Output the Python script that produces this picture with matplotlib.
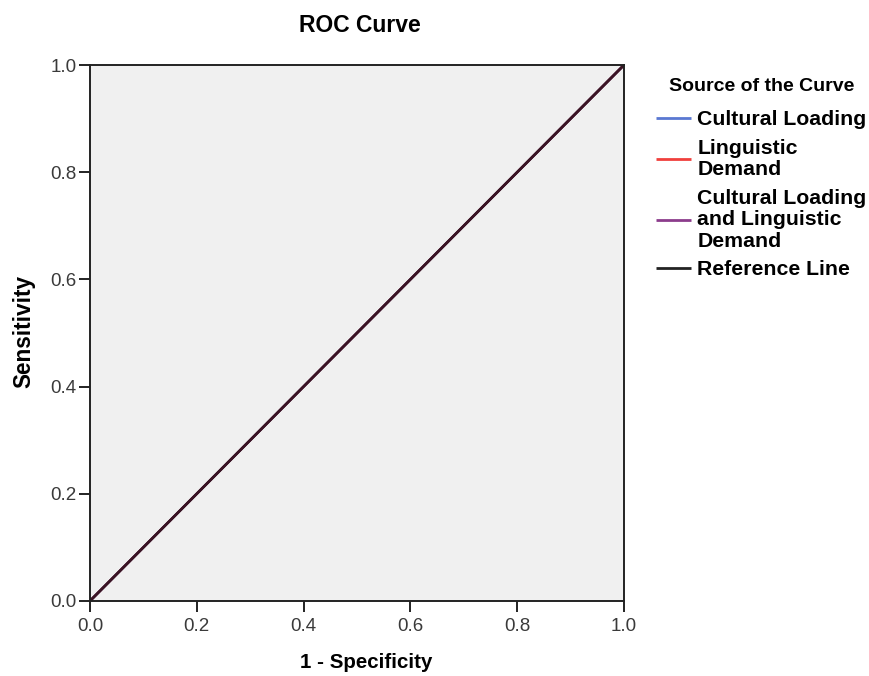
import matplotlib
matplotlib.use('Agg')
import matplotlib.pyplot as plt

plt.rcParams['font.family'] = ['Liberation Sans', 'DejaVu Sans']

# ROC points (1 - specificity, sensitivity) for each source
fpr_cultural = [0.0, 1.0]
tpr_cultural = [0.0, 1.0]
fpr_linguistic = [0.0, 1.0]
tpr_linguistic = [0.0, 1.0]
fpr_both = [0.0, 1.0]
tpr_both = [0.0, 1.0]
ref_x = [0.0, 1.0]
ref_y = [0.0, 1.0]

labels = ['Cultural Loading', 'Linguistic\nDemand',
          'Cultural Loading\nand Linguistic\nDemand', 'Reference Line']
colors = ['#5a78d2', '#f0403c', '#8c3c8c', '#222222']
ticks = [0.0, 0.2, 0.4, 0.6, 0.8, 1.0]

fig = plt.figure(figsize=(8.7, 6.76), dpi=100)
ax = fig.add_axes([0.1034, 0.111, 0.6138, 0.7928])
ax.set_facecolor('#f0f0f0')

series = [(fpr_cultural, tpr_cultural), (fpr_linguistic, tpr_linguistic),
          (fpr_both, tpr_both), (ref_x, ref_y)]
handles = []
for (x, y), c, lab in zip(series, colors, labels):
    h, = ax.plot(x, y, color=c, lw=1.6, label=lab, solid_capstyle='butt')
    handles.append(h)
# overlapping diagonals blend into a dark maroon
ax.plot(ref_x, ref_y, color='#3a1424', lw=2.0)

ax.set_xlim(0, 1)
ax.set_ylim(0, 1)
ax.set_xticks(ticks)
ax.set_yticks(ticks)
ax.set_xticklabels(['%.1f' % t for t in ticks])
ax.set_yticklabels(['%.1f' % t for t in ticks])
ax.tick_params(direction='out', length=8, width=1.4, color='#222222',
               labelsize=13.5, labelcolor='#3a3a3a')
ax.tick_params(axis='x', pad=4)
ax.tick_params(axis='y', pad=1.5)
for s in ax.spines.values():
    s.set_color('#222222')
    s.set_linewidth(1.4)

ax.set_xlabel('1 - Specificity', fontsize=14.8, fontweight='bold', va='center')
ax.set_ylabel('Sensitivity', fontsize=16.3, fontweight='bold', va='center')
ax.xaxis.set_label_coords(0.517, -0.1157)
ax.yaxis.set_label_coords(-0.1236, 0.503)
fig.text(0.4138, 0.963, 'ROC Curve', fontsize=16.5, fontweight='bold',
         ha='center', va='center')

leg = fig.legend(handles=handles, labels=labels, loc='upper left',
                 bbox_to_anchor=(656 / 870, 1 - 78 / 676), frameon=False,
                 title='Source of the Curve',
                 title_fontproperties={'size': 14, 'weight': 'bold'},
                 prop={'size': 15.3, 'weight': 'bold'},
                 handlelength=1.65, handletextpad=0.3, labelspacing=0.45,
                 borderaxespad=0, borderpad=0)
leg._legend_box.sep = 11  # gap under the legend title, in points
for t in leg.get_texts():
    t.set_linespacing(1.16)
for line in leg.get_lines():
    line.set_linewidth(2.0)

plt.savefig('out.png', dpi=100)
